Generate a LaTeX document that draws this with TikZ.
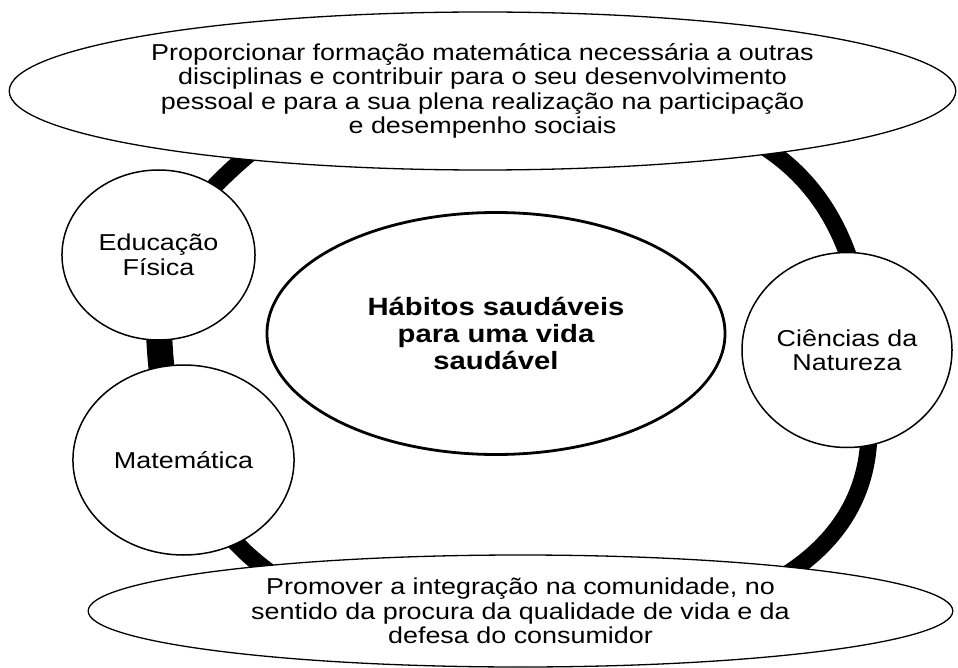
\documentclass[tikz,border=0pt]{standalone}
\usepackage{fontspec}
\setmainfont{Liberation Sans}
\usetikzlibrary{shapes.geometric, backgrounds}

\tikzset{
  bubble/.style={ellipse, draw, fill=white, line width=1.3pt, xscale=1.17,
    inner sep=0pt, align=center, font=\fontsize{23}{24.5}\selectfont},
  core/.style={bubble, line width=2.8pt, font=\bfseries\fontsize{25}{27}\selectfont},
  ring/.style={line width=17pt, black},
}

\begin{document}
\begin{tikzpicture}[x=1pt, y=1pt]
    \useasboundingbox (0,0) rectangle (958,-668);

    % Aims (top and bottom)
    \node[bubble, minimum width=809pt, minimum height=158pt] (topgoal) at (482.5,-91)
        {Proporcionar formação matemática necessária a outras\\
         disciplinas e contribuir para o seu desenvolvimento\\
         pessoal e para a sua plena realização na participação\\
         e desempenho sociais};
    \node[bubble, minimum width=739pt, minimum height=112pt] (botgoal) at (520.5,-611)
        {Promover a integração na comunidade, no\\
         sentido da procura da qualidade de vida e da\\
         defesa do consumidor};

    % Subjects
    \node[bubble, line width=1.5pt, minimum width=165pt, minimum height=170pt] (pe) at (158.5,-255) {Educação\\Física};
    \node[bubble, line width=1.5pt, minimum width=189pt, minimum height=190pt] (math) at (183.5,-460) {Matemática};
    \node[bubble, line width=1.5pt, minimum width=179.5pt, minimum height=195pt] (sci) at (847,-350) {Ciências da\\Natureza};

    % Theme
    \node[core, minimum width=391.5pt, minimum height=242pt] (theme) at (496,-333.5)
        {Hábitos saudáveis\\para uma vida\\saudável};

    % Ring behind everything
    \begin{scope}[on background layer]
        \draw[ring] (topgoal.center) to[out=170, in=55] (pe.center);
        \draw[ring, line width=26pt] (pe.center) to[out=-90, in=110] (math.center);
        \draw[ring] (math.center) to[out=-68, in=180] ([yshift=-25pt]botgoal.center);
        \draw[ring] ([yshift=-25pt]botgoal.center) to[out=0, in=-90] ([shift={(22pt,-80pt)}]sci.center);
        \draw[ring] ([shift={(22pt,-80pt)}]sci.center) to[out=88, in=0, looseness=1.35] (topgoal.center);
    \end{scope}
\end{tikzpicture}
\end{document}
